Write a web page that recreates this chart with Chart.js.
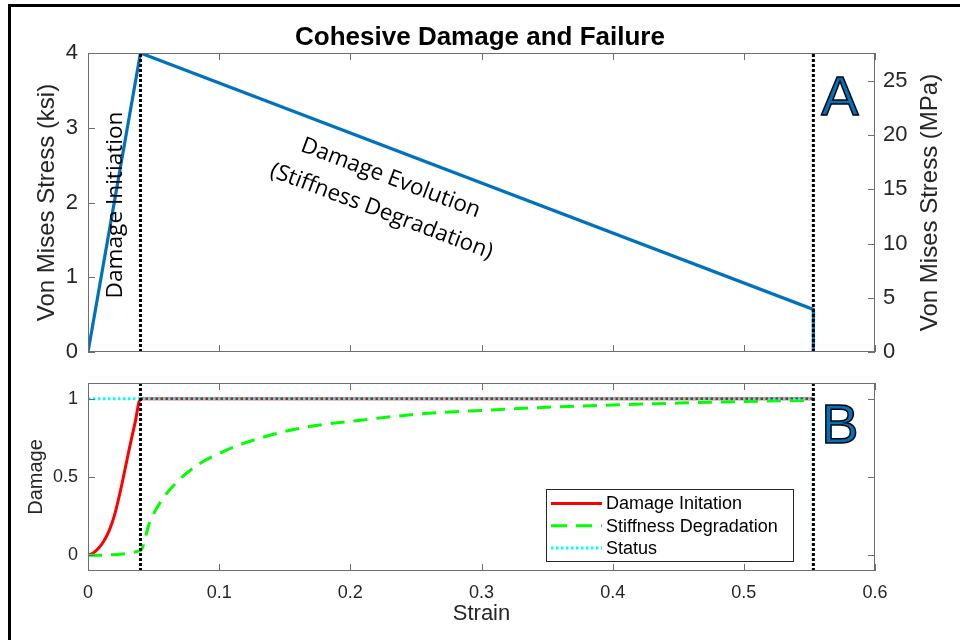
<!DOCTYPE html>
<html>
<head>
<meta charset="utf-8">
<script src="https://cdn.jsdelivr.net/npm/chart.js@4.4.1/dist/chart.umd.min.js"></script>
<style>
  html, body { margin: 0; padding: 0; background: #fff; }
  #wrap { position: relative; width: 960px; height: 640px; overflow: hidden; background: #fff; }
  #c1 { position: absolute; left: 0; top: 0; }
  #c2 { position: absolute; left: 0; top: 370px; }
  #frame { position: absolute; left: 8px; top: 4px; width: 980px; height: 700px; border: 3px solid #000; box-sizing: border-box; pointer-events: none; }
</style>
</head>
<body>
<div id="wrap">
  <canvas id="c1" width="960" height="370"></canvas>
  <canvas id="c2" width="960" height="270"></canvas>
  <div id="frame"></div>
</div>
<script>
// ---------------- data ----------------
const TITLE = 'Cohesive Damage and Failure';

// Panel A: stress–strain (ksi)
const strainStress = [0, 0.04, 0.553, 0.553];
const stressKsi    = [0, 4.0, 0.57, 0];

// Panel B: damage variables
const strainInit = [0, 0.004, 0.008, 0.012, 0.016, 0.020, 0.024, 0.028, 0.032, 0.036, 0.04, 0.553];
const damageInit = [0, 0.015, 0.045, 0.09, 0.155, 0.25, 0.385, 0.54, 0.70, 0.85, 1.0, 1.0];

const strainStiff = [0, 0.04, 0.047, 0.056, 0.068, 0.085, 0.10, 0.117, 0.136, 0.155, 0.175, 0.20, 0.25, 0.30, 0.35, 0.40, 0.45, 0.50, 0.553];
const stiffDeg    = [0, 0.03, 0.21, 0.35, 0.47, 0.585, 0.65, 0.71, 0.76, 0.80, 0.83, 0.855, 0.90, 0.925, 0.945, 0.96, 0.972, 0.982, 0.99];

const strainStatus = [0, 0.553, 0.553];
const statusVal    = [1, 1, 0];

// vertical markers (damage initiation, failure)
const markerStrains = [0.04, 0.553];

// ticks / axis ranges
const strainTicks = [0, 0.1, 0.2, 0.3, 0.4, 0.5, 0.6];
const ksiTicks    = [0, 1, 2, 3, 4];
const mpaTicks    = [0, 5, 10, 15, 20, 25];
const damageTicks = [0, 0.5, 1];
const strainRange = [0, 0.6];
const ksiRange    = [0, 4];
const damageRange = [-0.1, 1.1];
const KSI_TO_MPA  = 6.89476;

const legendLabels = ['Damage Initation', 'Stiffness Degradation', 'Status'];

// ---------------- helpers ----------------
const FONT = "'Liberation Sans', Arial, Helvetica, sans-serif";
const NOTE_FONT = "'Open Sans', 'Noto Sans', sans-serif";
const AXIS_COL = '#262626';
const BOX_COL = '#6e6e6e';
const pts = (xs, ys) => xs.map((x, i) => ({ x: x, y: ys[i] }));
const setTicks = arr => (s) => { s.ticks = arr.map(v => ({ value: v })); };
const plainLabel = v => String(Math.round(v * 1000) / 1000);

function fitSize(ctx, text, family, weight, width) {
  ctx.font = weight + ' 100px ' + family;
  return 100 * width / ctx.measureText(text).width;
}

// box + inward ticks (MATLAB style)
const frameTicks = {
  id: 'frameTicks',
  afterDatasetsDraw(chart) {
    const { ctx, chartArea: a } = chart;
    const L = 7;
    ctx.save();
    ctx.strokeStyle = BOX_COL;
    ctx.lineWidth = 1;
    const seg = (x1, y1, x2, y2) => { ctx.beginPath(); ctx.moveTo(x1, y1); ctx.lineTo(x2, y2); ctx.stroke(); };
    ctx.strokeRect(Math.round(a.left) + 0.5, Math.round(a.top) + 0.5, Math.round(a.right - a.left) - 1, Math.round(a.bottom - a.top) - 1);
    const xs = chart.scales.x;
    xs.ticks.forEach(t => {
      const p = Math.round(xs.getPixelForValue(t.value)) + 0.5;
      seg(p, a.bottom, p, a.bottom - L);
      seg(p, a.top, p, a.top + L);
    });
    const ys = chart.scales.y;
    ys.ticks.forEach(t => {
      const p = Math.round(ys.getPixelForValue(t.value)) + 0.5;
      seg(a.left, p, a.left + L, p);
      if (!chart.scales.y2) seg(a.right, p, a.right - L, p);
    });
    if (chart.scales.y2) {
      const y2 = chart.scales.y2;
      y2.ticks.forEach(t => {
        const p = Math.round(y2.getPixelForValue(t.value)) + 0.5;
        seg(a.right, p, a.right - L, p);
      });
    }
    ctx.restore();
  }
};

function drawPanelLetter(ctx, letter, x, y) {
  ctx.save();
  ctx.font = '56px ' + FONT;
  ctx.textAlign = 'left';
  ctx.textBaseline = 'alphabetic';
  ctx.fillStyle = '#0072BD';
  ctx.strokeStyle = '#000';
  ctx.lineWidth = 1.5;
  ctx.fillText(letter, x, y);
  ctx.strokeText(letter, x, y);
  ctx.restore();
}

// annotations for panel A
const topNotes = {
  id: 'topNotes',
  afterDatasetsDraw(chart) {
    const { ctx, chartArea: a } = chart;
    const xs = chart.scales.x, ys = chart.scales.y, y2 = chart.scales.y2;
    ctx.save();
    ctx.fillStyle = '#000';
    // Damage Initiation (vertical)
    const t = 'Damage Initiation';
    const sz = fitSize(ctx, t, NOTE_FONT, 'normal', 187);
    ctx.font = sz.toFixed(2) + 'px ' + NOTE_FONT;
    ctx.translate(xs.getPixelForValue(0.0262), ys.getPixelForValue(1.967));
    ctx.rotate(-Math.PI / 2);
    ctx.textAlign = 'center';
    ctx.textBaseline = 'alphabetic';
    ctx.fillText(t, 0, 0);
    ctx.restore();

    const ang = 20.6 * Math.PI / 180;
    const lines = [
      { text: 'Damage Evolution', x: 0.229, y: 2.245, w: 190 },
      { text: '(Stiffness Degradation)', x: 0.222, y: 1.80, w: 236 }
    ];
    lines.forEach(l => {
      ctx.save();
      const s = fitSize(ctx, l.text, NOTE_FONT, 'normal', l.w);
      ctx.font = s.toFixed(2) + 'px ' + NOTE_FONT;
      ctx.fillStyle = '#000';
      ctx.translate(xs.getPixelForValue(l.x), ys.getPixelForValue(l.y));
      ctx.rotate(ang);
      ctx.textAlign = 'center';
      ctx.textBaseline = 'alphabetic';
      ctx.fillText(l.text, 0, 0);
      ctx.restore();
    });

    drawPanelLetter(ctx, 'A', xs.getPixelForValue(0.559), ys.getPixelForValue(3.17));

    // right axis title (reads bottom-to-top, as in the reference)
    ctx.save();
    ctx.font = '24px ' + FONT;
    ctx.fillStyle = AXIS_COL;
    ctx.translate(y2.right - 30, (a.top + a.bottom) / 2);
    ctx.rotate(-Math.PI / 2);
    ctx.textAlign = 'center';
    ctx.textBaseline = 'middle';
    ctx.fillText('Von Mises Stress (MPa)', 0, 0);
    ctx.restore();
  }
};

// legend + letter for panel B
const bottomNotes = {
  id: 'bottomNotes',
  afterDatasetsDraw(chart) {
    const { ctx, chartArea: a } = chart;
    const xs = chart.scales.x, ys = chart.scales.y;
    drawPanelLetter(ctx, 'B', xs.getPixelForValue(0.559), ys.getPixelForValue(0.715));

    const boxW = 247, boxH = 72;
    const right = Math.round(a.right - 82), bottom = Math.round(a.bottom - 10);
    const left = right - boxW, top = bottom - boxH;
    ctx.save();
    ctx.fillStyle = '#fff';
    ctx.fillRect(left, top, boxW, boxH);
    ctx.strokeStyle = '#262626';
    ctx.lineWidth = 1;
    ctx.strokeRect(left + 0.5, top + 0.5, boxW, boxH);
    const items = chart.data.datasets.filter(d => d.inLegend);
    items.forEach((d, i) => {
      const cy = top + 14.5 + i * 22.2;
      ctx.save();
      ctx.strokeStyle = d.borderColor;
      ctx.lineWidth = d.borderWidth;
      ctx.setLineDash(d.legendDash || d.borderDash || []);
      ctx.beginPath();
      ctx.moveTo(left + 5, cy);
      ctx.lineTo(left + 56, cy);
      ctx.stroke();
      ctx.restore();
      ctx.font = '18px ' + FONT;
      ctx.fillStyle = '#000';
      ctx.textAlign = 'left';
      ctx.textBaseline = 'middle';
      ctx.fillText(d.label, left + 60, cy + 1);
    });
    ctx.restore();
  }
};

const tickFontA = { family: FONT, size: 22 };
const titleFontA = { family: FONT, size: 24, lineHeight: 1.2 };
const tickFontB = { family: FONT, size: 18 };
const titleFontB = { family: FONT, size: 20, lineHeight: 1.2 };
const strainTitleFont = { family: FONT, size: 22, lineHeight: 1.2 };
const noGrid = { display: false, drawTicks: false };
const noBorder = { display: false };
const noPad = s => { s.paddingTop = 0; s.paddingBottom = 0; };

// ---------------- Panel A ----------------
const markerA = markerStrains.map((s, i) => ({
  label: i === 0 ? 'Damage initiation' : 'Failure',
  data: pts([s, s], ksiRange),
  borderColor: '#000', borderWidth: 3, borderDash: [3, 2], order: 0
}));

new Chart(document.getElementById('c1'), {
  type: 'line',
  data: {
    datasets: [
      ...markerA,
      { label: 'Von Mises Stress', data: pts(strainStress, stressKsi), borderColor: '#0072BD', borderWidth: 3.2, order: 1 }
    ]
  },
  options: {
    responsive: false,
    animation: false,
    layout: { padding: 0 },
    elements: { point: { radius: 0 }, line: { tension: 0, borderCapStyle: 'butt', borderJoinStyle: 'miter' } },
    plugins: {
      legend: { display: false },
      tooltip: { enabled: false },
      title: {
        display: true, text: TITLE, color: '#000',
        font: { family: FONT, size: 26, weight: 'bold', lineHeight: 1.2 },
        padding: { top: 21.8, bottom: 0 }
      }
    },
    scales: {
      x: {
        type: 'linear', position: 'bottom', min: strainRange[0], max: strainRange[1],
        afterBuildTicks: setTicks(strainTicks),
        ticks: { display: false }, grid: noGrid, border: noBorder,
        afterFit: s => { s.height = 18; }
      },
      y: {
        type: 'linear', position: 'left', min: ksiRange[0], max: ksiRange[1],
        afterBuildTicks: setTicks(ksiTicks),
        ticks: { color: AXIS_COL, font: tickFontA, padding: 10, callback: plainLabel },
        grid: noGrid, border: noBorder,
        title: { display: true, text: 'Von Mises Stress (ksi)', color: AXIS_COL, font: titleFontA, padding: { top: 33, bottom: 0 } },
        afterFit: s => { s.width = 88; noPad(s); }
      },
      y2: {
        type: 'linear', position: 'right', min: ksiRange[0] * KSI_TO_MPA, max: ksiRange[1] * KSI_TO_MPA,
        afterBuildTicks: setTicks(mpaTicks),
        ticks: { color: AXIS_COL, font: tickFontA, padding: 8, callback: plainLabel },
        grid: noGrid, border: noBorder,
        afterFit: s => { s.width = 85; noPad(s); }
      }
    }
  },
  plugins: [frameTicks, topNotes]
});

// ---------------- Panel B ----------------
const markerB = markerStrains.map((s, i) => ({
  label: i === 0 ? 'Damage initiation' : 'Failure',
  data: pts([s, s], damageRange),
  borderColor: '#000', borderWidth: 3, borderDash: [3, 2], order: 0
}));

new Chart(document.getElementById('c2'), {
  type: 'line',
  data: {
    datasets: [
      { label: legendLabels[0], inLegend: true, data: pts(strainInit, damageInit), borderColor: '#FF0000', borderWidth: 3, cubicInterpolationMode: 'monotone', order: 3 },
      { label: legendLabels[1], inLegend: true, data: pts(strainStiff, stiffDeg), borderColor: '#00FF00', borderWidth: 3, borderDash: [14, 9], legendDash: [16, 9], cubicInterpolationMode: 'monotone', order: 2 },
      { label: legendLabels[2], inLegend: true, data: pts(strainStatus, statusVal), borderColor: '#00FFFF', borderWidth: 3, borderDash: [2.5, 2.5], order: 1 },
      ...markerB
    ]
  },
  options: {
    responsive: false,
    animation: false,
    layout: { padding: { top: 13, right: 85, left: 0, bottom: 0 } },
    elements: { point: { radius: 0 }, line: { tension: 0, borderCapStyle: 'butt' } },
    plugins: { legend: { display: false }, tooltip: { enabled: false }, title: { display: false } },
    scales: {
      x: {
        type: 'linear', position: 'bottom', min: strainRange[0], max: strainRange[1],
        afterBuildTicks: setTicks(strainTicks),
        ticks: { color: AXIS_COL, font: tickFontB, padding: 11, callback: plainLabel },
        grid: noGrid, border: noBorder,
        title: { display: true, text: 'Strain', color: AXIS_COL, font: strainTitleFont, padding: { top: 0, bottom: 12.8 } },
        afterFit: s => { s.height = 69; s.paddingLeft = 0; s.paddingRight = 0; }
      },
      y: {
        type: 'linear', position: 'left', min: damageRange[0], max: damageRange[1],
        afterBuildTicks: setTicks(damageTicks),
        ticks: { color: AXIS_COL, font: tickFontB, padding: 10, callback: plainLabel },
        grid: noGrid, border: noBorder,
        title: { display: true, text: 'Damage', color: AXIS_COL, font: titleFontB, padding: { top: 24, bottom: 0 } },
        afterFit: s => { s.width = 88; noPad(s); }
      }
    }
  },
  plugins: [frameTicks, bottomNotes]
});
</script>
</body>
</html>
